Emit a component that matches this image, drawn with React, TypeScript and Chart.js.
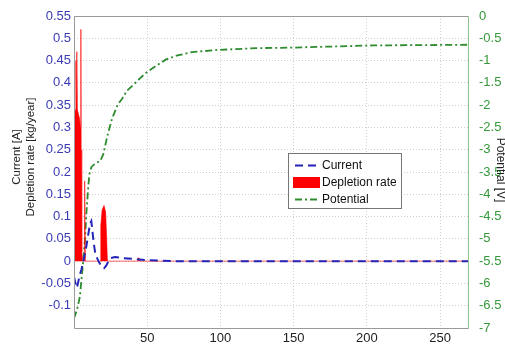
import React, { useEffect, useRef } from 'react';
import { Chart, registerables } from 'chart.js';

Chart.register(...registerables);

// ---- Data ----
const depletionX = [0, 0.3, 1.0, 1.3, 1.6, 1.9, 2.3, 3.0, 3.8, 4.4, 4.7, 4.9, 5.3, 5.8, 6.9, 7.3, 7.7, 18, 18.3, 19.2, 20.5, 21.6, 22.3, 22.8, 43.5, 44.2, 45, 269];
const depletionY = [0, 0.33, 0.34, 0.45, 0.36, 0.47, 0.34, 0.33, 0.32, 0.3, 0.52, 0.25, 0.02, 0, 0, 0.18, 0, 0, 0.08, 0.115, 0.125, 0.11, 0.05, 0, 0, 0.008, 0, 0];

const currentX = [0, 1, 2, 3, 4, 5, 6, 7, 8, 9, 10, 11, 11.8, 12.5, 13.5, 14.5, 16, 17.5, 19, 20.5, 22, 23.5, 25, 28, 33, 40, 50, 60, 70, 269];
const currentY = [-0.035, -0.05, -0.06, -0.045, -0.03, -0.02, -0.005, 0.01, 0.025, 0.045, 0.065, 0.085, 0.09, 0.07, 0.04, 0.018, 0.005, -0.005, -0.013, -0.016, -0.01, 0, 0.007, 0.009, 0.007, 0.005, 0.002, 0.001, 0, 0];

const potentialX = [0, 2, 4, 6, 7.5, 8.5, 9.7, 10.5, 12, 15, 18, 20, 22.7, 26, 30, 33, 36, 40, 45, 49, 56, 62.6, 70, 80.6, 98.6, 125.7, 148, 170.7, 204.5, 249, 269];
const potentialY = [-6.78, -6.6, -6.3, -5.6, -5.0, -4.4, -3.85, -3.55, -3.38, -3.3, -3.25, -3.1, -2.7, -2.3, -1.98, -1.85, -1.68, -1.56, -1.4, -1.28, -1.12, -0.98, -0.89, -0.81, -0.76, -0.72, -0.71, -0.69, -0.66, -0.65, -0.645];

const xTickValues = [50, 100, 150, 200, 250];
const xTickLabels = ['50', '100', '150', '200', '250'];
const leftTickValues = [-0.1, -0.05, 0, 0.05, 0.1, 0.15, 0.2, 0.25, 0.3, 0.35, 0.4, 0.45, 0.5, 0.55];
const leftTickLabels = ['-0.1', '-0.05', '0', '0.05', '0.1', '0.15', '0.2', '0.25', '0.3', '0.35', '0.4', '0.45', '0.5', '0.55'];
const rightTickValues = [-7, -6.5, -6, -5.5, -5, -4.5, -4, -3.5, -3, -2.5, -2, -1.5, -1, -0.5, 0];
const rightTickLabels = ['-7', '-6.5', '-6', '-5.5', '-5', '-4.5', '-4', '-3.5', '-3', '-2.5', '-2', '-1.5', '-1', '-0.5', '0'];

const seriesNames = ['Current', 'Depletion rate', 'Potential'];
const leftTitleLines = ['Current [A]', 'Depletion rate [kg/year]'];
const rightTitle = 'Potential [V]';

const BLUE = '#2424b8';
const RED = '#ff0000';
const GREEN = '#2e8b2e';
const LEFT_TICK = '#3a3ab4';
const RIGHT_TICK = '#35983a';
const FONT = '"Liberation Sans", Arial, sans-serif';

const toPoints = (xs: number[], ys: number[]) => xs.map((x, i) => ({ x, y: ys[i] }));

const decorPlugin = {
  id: 'decor',
  afterDraw(chart: any) {
    const { ctx, chartArea } = chart;
    const { left, right, top, bottom } = chartArea;
    ctx.save();
    // box
    ctx.setLineDash([]);
    ctx.lineWidth = 1;
    ctx.strokeStyle = '#9a9a9a';
    ctx.beginPath();
    ctx.moveTo(left + 0.5, bottom + 0.5);
    ctx.lineTo(left + 0.5, top + 0.5);
    ctx.lineTo(right + 0.5, top + 0.5);
    ctx.moveTo(left + 0.5, bottom + 0.5);
    ctx.lineTo(right + 0.5, bottom + 0.5);
    ctx.stroke();
    ctx.strokeStyle = '#8cc48c';
    ctx.beginPath();
    ctx.moveTo(right + 0.5, top + 0.5);
    ctx.lineTo(right + 0.5, bottom + 0.5);
    ctx.stroke();

    // left titles
    ctx.fillStyle = '#222';
    ctx.font = `11.5px ${FONT}`;
    ctx.textAlign = 'center';
    ctx.textBaseline = 'middle';
    const cy = 157;
    [17, 31].forEach((x, i) => {
      ctx.save();
      ctx.translate(x, cy);
      ctx.rotate(-Math.PI / 2);
      ctx.fillText(leftTitleLines[i], 0, 0);
      ctx.restore();
    });
    // right title
    ctx.save();
    ctx.font = `12px ${FONT}`;
    ctx.translate(500, 170);
    ctx.rotate(Math.PI / 2);
    ctx.fillText(rightTitle, 0, 0);
    ctx.restore();

    // legend
    const lx = 288, ly = 153, lw = 113, lh = 55;
    ctx.fillStyle = '#ffffff';
    ctx.fillRect(lx, ly, lw, lh);
    ctx.strokeStyle = '#777';
    ctx.lineWidth = 1;
    ctx.strokeRect(lx + 0.5, ly + 0.5, lw, lh);
    const ds = chart.data.datasets;
    const rows = [165, 182, 199];
    ctx.font = `12px ${FONT}`;
    ctx.textAlign = 'left';
    ctx.textBaseline = 'middle';
    rows.forEach((y, i) => {
      const d = ds[i];
      if (d.fill) {
        ctx.fillStyle = d.backgroundColor;
        ctx.fillRect(293, y - 5, 27, 11);
      } else {
        ctx.strokeStyle = d.borderColor;
        ctx.lineWidth = d.borderWidth;
        ctx.setLineDash(d.borderDash || []);
        ctx.beginPath();
        ctx.moveTo(295, y + 0.5);
        ctx.lineTo(319, y + 0.5);
        ctx.stroke();
        ctx.setLineDash([]);
      }
      ctx.fillStyle = '#111';
      ctx.fillText(d.label, 322, y + 1);
    });
    ctx.restore();
  },
};

export default function App() {
  const canvasRef = useRef<HTMLCanvasElement | null>(null);

  useEffect(() => {
    document.body.style.margin = '0';
    const canvas = canvasRef.current;
    if (!canvas) return;
    const chart = new Chart(canvas, {
      type: 'line',
      data: {
        datasets: [
          {
            label: seriesNames[0],
            data: toPoints(currentX, currentY),
            yAxisID: 'y',
            borderColor: BLUE,
            borderWidth: 2,
            borderDash: [8, 5],
            pointRadius: 0,
            fill: false,
            tension: 0,
          },
          {
            label: seriesNames[1],
            data: toPoints(depletionX, depletionY),
            yAxisID: 'y',
            borderColor: RED,
            backgroundColor: RED,
            borderWidth: 0.6,
            pointRadius: 0,
            fill: 'origin',
            tension: 0,
          },
          {
            label: seriesNames[2],
            data: toPoints(potentialX, potentialY),
            yAxisID: 'y2',
            borderColor: GREEN,
            borderWidth: 1.8,
            borderDash: [7, 3, 2, 3],
            pointRadius: 0,
            fill: false,
            tension: 0,
          },
        ],
      },
      options: {
        responsive: false,
        animation: false,
        layout: { padding: { top: 16, left: 0, right: 0, bottom: 0 } },
        plugins: {
          legend: { display: false },
          tooltip: { enabled: false },
        },
        scales: {
          x: {
            type: 'linear',
            min: 0,
            max: 269,
            afterBuildTicks: (s: any) => {
              s.ticks = xTickValues.map((v) => ({ value: v }));
            },
            afterFit: (s: any) => {
              s.height = 17;
            },
            ticks: {
              padding: 3,
              color: '#222',
              font: { family: FONT, size: 13 },
              maxRotation: 0,
              callback: (_v: any, i: number) => xTickLabels[i],
            },
            grid: {
              color: '#cfcfcf',
              drawTicks: false,
            },
            border: { display: false, dash: [1, 2] },
          },
          y: {
            type: 'linear',
            position: 'left',
            min: -0.15,
            max: 0.55,
            afterBuildTicks: (s: any) => {
              s.ticks = leftTickValues.map((v) => ({ value: v }));
            },
            afterFit: (s: any) => {
              s.width = 74;
            },
            ticks: {
              padding: 3,
              color: LEFT_TICK,
              font: { family: FONT, size: 13 },
              callback: (_v: any, i: number) => leftTickLabels[i],
            },
            grid: { color: '#cfcfcf', drawTicks: false },
            border: { display: false, dash: [1, 2] },
          },
          y2: {
            type: 'linear',
            position: 'right',
            min: -7,
            max: 0,
            afterBuildTicks: (s: any) => {
              s.ticks = rightTickValues.map((v) => ({ value: v }));
            },
            afterFit: (s: any) => {
              s.width = 37;
            },
            ticks: {
              padding: 3,
              color: RIGHT_TICK,
              font: { family: FONT, size: 13 },
              callback: (_v: any, i: number) => rightTickLabels[i],
            },
            grid: { display: false },
            border: { display: false },
          },
        },
      } as any,
      plugins: [decorPlugin],
    });
    return () => chart.destroy();
  }, []);

  return (
    <div style={{ position: 'absolute', left: 0, top: 0, width: 505, height: 345 }}>
      <canvas ref={canvasRef} width={505} height={345} style={{ display: 'block' }} />
    </div>
  );
}
